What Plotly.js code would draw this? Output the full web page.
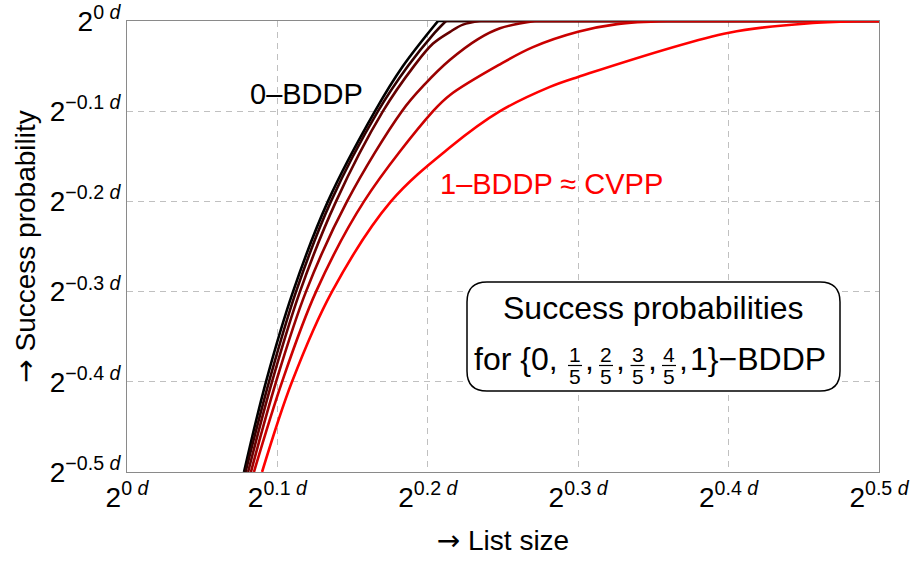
<!DOCTYPE html>
<html>
<head>
<meta charset="utf-8">
<script src="https://cdn.plot.ly/plotly-3.0.1.min.js"></script>
<style>html,body{margin:0;padding:0;background:#fff;}#chart{width:913px;height:561px;}</style>
</head>
<body>
<div id="chart"></div>
<script>
// ---- data: exponents (list size 2^{x d}, success probability 2^{y d}) ----
const seriesNames = ["0", "1/5", "2/5", "3/5", "4/5", "1"];

const x_a0   = [0.0778, 0.0924, 0.1104, 0.1336, 0.1649, 0.1835, 0.2068, 0.5];
const y_a0   = [-0.5,   -0.4,   -0.3,   -0.2,   -0.1,   -0.05,  0,      0];

const x_a1_5 = [0.0788, 0.0944, 0.1124, 0.1356, 0.1669, 0.1868, 0.2035, 0.2121, 0.5];
const y_a1_5 = [-0.5,   -0.4,   -0.3,   -0.2,   -0.1,   -0.05,  -0.015, 0,      0];

const x_a2_5 = [0.0805, 0.0964, 0.1150, 0.1390, 0.1702, 0.1908, 0.2035, 0.2148, 0.2234, 0.2347, 0.5];
const y_a2_5 = [-0.5,   -0.4,   -0.3,   -0.2,   -0.1,   -0.05,  -0.025, -0.012, -0.004, 0,      0];

const x_a3_5 = [0.0824, 0.0991, 0.1190, 0.1463, 0.1828, 0.1981, 0.2148, 0.2334, 0.2480, 0.2713, 0.5];
const y_a3_5 = [-0.5,   -0.4,   -0.3,   -0.2,   -0.1,   -0.07,  -0.043, -0.02,  -0.008, 0,      0];

const x_a4_5 = [0.0844, 0.1031, 0.1257, 0.1576, 0.2035, 0.2148, 0.2480, 0.2699, 0.2999, 0.3258, 0.3590, 0.5];
const y_a4_5 = [-0.5,   -0.4,   -0.3,   -0.2,   -0.1,   -0.082, -0.048, -0.029, -0.012, -0.0035, 0,     0];

const x_a1   = [0.0898, 0.1097, 0.1363, 0.1755, 0.2148, 0.2480, 0.2812, 0.2999, 0.4003, 0.4588, 0.4940, 0.5];
const y_a1   = [-0.5,   -0.4,   -0.3,   -0.2,   -0.14,  -0.1,   -0.073, -0.062, -0.013, -0.002, 0,      0];

const xTickVals = [0, 0.1, 0.2, 0.3, 0.4, 0.5];
const xTickText = ["2<sup>0 <i>d</i></sup>", "2<sup>0.1 <i>d</i></sup>", "2<sup>0.2 <i>d</i></sup>",
                   "2<sup>0.3 <i>d</i></sup>", "2<sup>0.4 <i>d</i></sup>", "2<sup>0.5 <i>d</i></sup>"];
const yTickVals = [-0.5, -0.4, -0.3, -0.2, -0.1, 0];
const yTickText = ["2<sup>−0.5 <i>d</i></sup>", "2<sup>−0.4 <i>d</i></sup>", "2<sup>−0.3 <i>d</i></sup>",
                   "2<sup>−0.2 <i>d</i></sup>", "2<sup>−0.1 <i>d</i></sup>", "2<sup>0 <i>d</i></sup>"];

const fracNumerators = ["1", "2", "3", "4"];
const fracDenominator = "5";

// ---- styling ----
const colors = ["rgb(0,0,0)", "rgb(51,0,0)", "rgb(102,0,0)", "rgb(153,0,0)", "rgb(204,0,0)", "rgb(255,0,0)"];
const FONT = "Liberation Sans, Arial, DejaVu Sans, sans-serif";
const ARROW = '<span style="font-family:DejaVu Sans">→</span>';
const allX = [x_a0, x_a1_5, x_a2_5, x_a3_5, x_a4_5, x_a1];
const allY = [y_a0, y_a1_5, y_a2_5, y_a3_5, y_a4_5, y_a1];

const traces = [];
allX.forEach((xs, i) => {
  const ys = allY[i];
  const n = xs.length;
  traces.push({x: xs.slice(0, n - 1), y: ys.slice(0, n - 1), type: "scatter", mode: "lines",
    line: {color: colors[i], width: 2.6, shape: "spline", smoothing: 1}, name: seriesNames[i],
    hoverinfo: "skip", showlegend: false});
  traces.push({x: xs.slice(n - 2), y: ys.slice(n - 2), type: "scatter", mode: "lines",
    line: {color: colors[i], width: 2.6}, hoverinfo: "skip", showlegend: false});
});

// pixel -> axis helpers for placing annotations (plot area 127..879 x 21..472)
const px2x = px => (px - 127) / 1504;
const py2y = py => -(py - 21) / 902;

function roundedBox(L, T, R, B, r) {
  const P = (px, py) => px2x(px) + "," + py2y(py);
  return "M" + P(L + r, T) + " L" + P(R - r, T) + " Q" + P(R, T) + " " + P(R, T + r) +
         " L" + P(R, B - r) + " Q" + P(R, B) + " " + P(R - r, B) +
         " L" + P(L + r, B) + " Q" + P(L, B) + " " + P(L, B - r) +
         " L" + P(L, T + r) + " Q" + P(L, T) + " " + P(L + r, T) + " Z";
}

const shapes = [{type: "path", xref: "x", yref: "y", path: roundedBox(467, 282, 840, 391, 20),
  line: {color: "#000", width: 1.5}, fillcolor: "#fff", layer: "above"}];

const ann = [];
const A = (text, px, py, size, color, xanchor) => ann.push({text: text, x: px2x(px), y: py2y(py),
  xref: "x", yref: "y", showarrow: false, xanchor: xanchor || "center", yanchor: "middle",
  font: {family: FONT, size: size, color: color || "#000"}});

A("0–BDDP", 306, 94, 29, "#000");
A("1–BDDP ≈ CVPP", 551, 184, 29, "#ff0000");
A("Success probabilities", 653, 307.5, 32);
A("for {0,", 560, 359, 32, "#000", "right");
const fracCenters = [575, 606, 637.5, 669];
fracNumerators.forEach((num, k) => {
  const c = fracCenters[k];
  A(num, c, 354.5, 21);
  A(fracDenominator, c, 376, 21);
  shapes.push({type: "line", xref: "x", yref: "y", x0: px2x(c - 7), x1: px2x(c + 7), y0: py2y(365.5), y1: py2y(365.5),
    line: {color: "#000", width: 1.2}, layer: "above"});
  A(",", c + 8, 359, 32, "#000", "left");
});
A("1}−BDDP", 688, 359, 32, "#000", "left");

const layout = {
  width: 913, height: 561,
  margin: {l: 127, r: 34, t: 21, b: 89},
  paper_bgcolor: "#fff", plot_bgcolor: "#fff",
  font: {family: FONT, color: "#000"},
  showlegend: false,
  xaxis: {range: [0, 0.5], tickvals: xTickVals, ticktext: xTickText, ticks: "",
    tickfont: {size: 28, family: FONT, color: "#000"},
    showgrid: true, gridcolor: "#c0c0c0", gridwidth: 1, griddash: "6px,5px",
    zeroline: false, showline: true, mirror: true, linecolor: "#8a8a8a", linewidth: 1,
    title: {text: ARROW + " List size", font: {size: 28, family: FONT, color: "#000"}, standoff: 18}},
  yaxis: {range: [-0.5, 0], tickvals: yTickVals, ticktext: yTickText, ticks: "",
    tickfont: {size: 28, family: FONT, color: "#000"},
    showgrid: true, gridcolor: "#c0c0c0", gridwidth: 1, griddash: "6px,5px",
    zeroline: false, showline: true, mirror: true, linecolor: "#8a8a8a", linewidth: 1,
    title: {text: ARROW + " Success probability", font: {size: 28, family: FONT, color: "#000"}, standoff: 5}},
  shapes: shapes,
  annotations: ann
};

Plotly.newPlot("chart", traces, layout, {staticPlot: true, displayModeBar: false});
</script>
</body>
</html>
